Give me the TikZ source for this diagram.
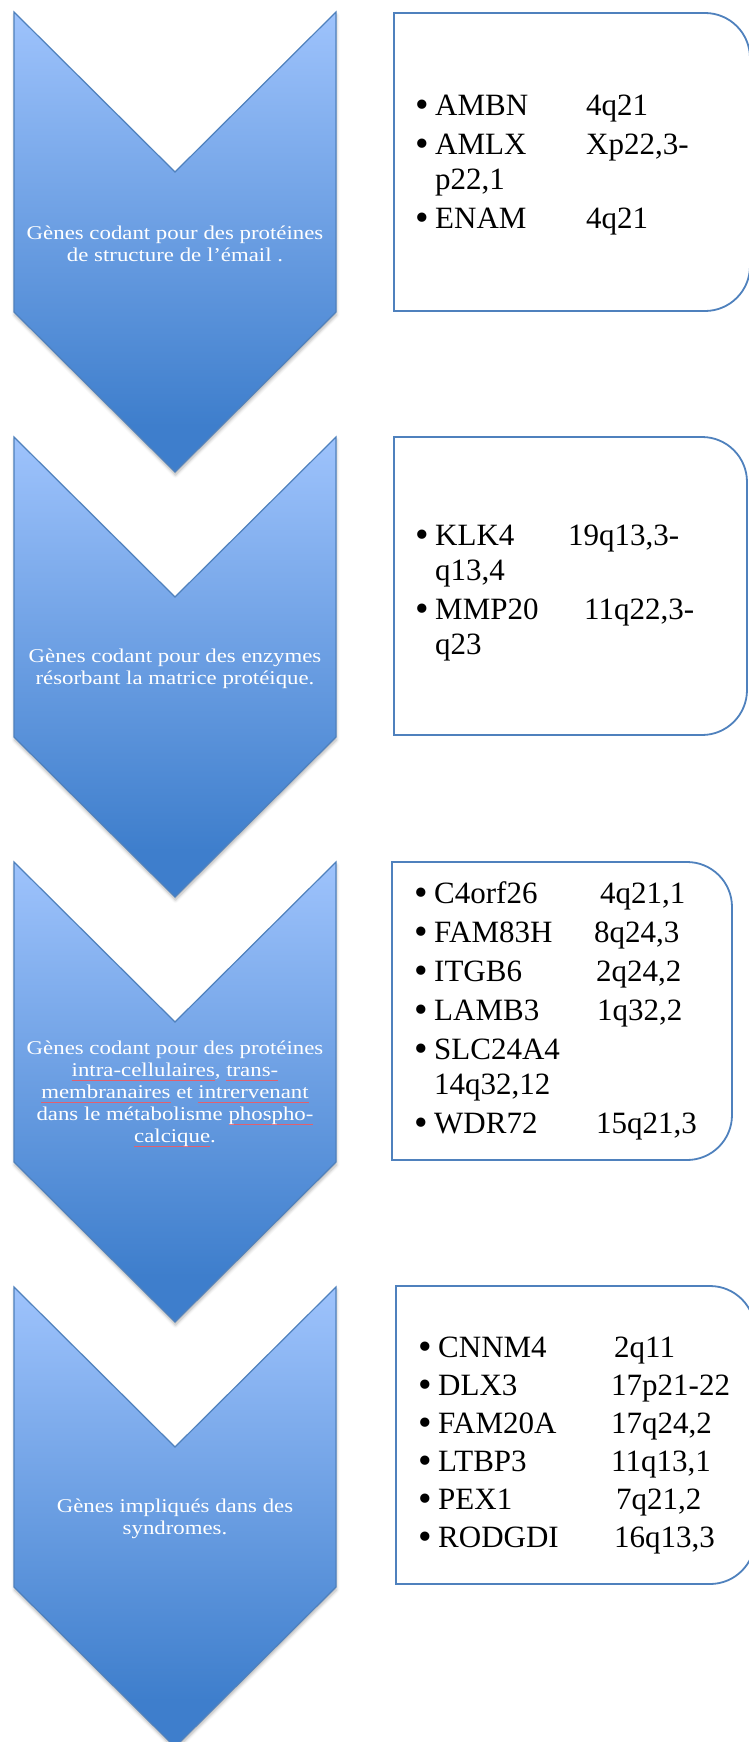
\documentclass[tikz,border=0pt]{standalone}
\usepackage{fontspec}
\setmainfont{Liberation Serif}
\newfontfamily\chevfont[FakeStretch=1.17]{Liberation Serif}
\usetikzlibrary{shadows.blur}

\definecolor{chevtop}{RGB}{158,195,252}
\definecolor{chevbot}{RGB}{62,126,204}
\definecolor{chevline}{RGB}{79,129,189}
\definecolor{boxline}{RGB}{79,129,189}
\definecolor{spellred}{RGB}{226,96,110}

% light at the top, dark towards the tip
\pgfdeclareverticalshading{chevshade}{100bp}{color(0bp)=(chevbot); color(25bp)=(chevbot);
  color(30bp)=(chevbot); color(75bp)=(chevtop); color(100bp)=(chevtop)}

% bullet, gene name, locus at a given offset
\newcommand\bul{\makebox[20pt][l]{\raisebox{-2pt}{\scalebox{1.25}{\textbullet}}}}
\newcommand\gene[3]{\bul\makebox[#2pt][l]{#1}#3}
\newcommand\wrapline[1]{\hspace*{20pt}#1}
\newcommand\spellmark[1]{\setbox0\hbox{#1}\rlap{\color{spellred}\rule[-3.5pt]{\wd0}{0.5pt}}\box0\relax}

\tikzset{
  chevron/.style={shading=chevshade, draw=chevline, line width=1.2pt,
    blur shadow={shadow xshift=0.5pt, shadow yshift=-3pt, shadow blur radius=3pt, shadow opacity=30}},
  chevtext/.style={text=white, font=\chevfont\fontsize{19.5}{22}\selectfont, align=center, inner sep=0pt},
  genebox/.style={draw=boxline, line width=1.8pt},
  genetext/.style={font=\fontsize{31}{35}\selectfont, align=left, inner sep=0pt, anchor=west},
}

\begin{document}
\begin{tikzpicture}[x=1pt,y=-1pt]
  \useasboundingbox (0,0) rectangle (749,1742);

  % chevrons
  \foreach \t in {12,437,862,1287}
    \draw[chevron] (14,\t) -- (175,\t+160) -- (336,\t) -- (336,\t+300)
      -- (175,\t+460) -- (14,\t+300) -- cycle;

  \node[chevtext] (c1) at (175,244) {Gènes codant pour des protéines\\de structure de l’émail .};
  \node[chevtext] (c2) at (175,669) {Gènes codant pour des enzymes\\résorbant la matrice protéique.};
  \node[chevtext] (c3) at (175,1094) {Gènes codant pour des protéines\\
    \spellmark{intra-cellulaires}, \spellmark{trans-}\\
    \spellmark{membranaires} et \spellmark{intrervenant}\\
    dans le métabolisme \spellmark{phospho-}\\
    \spellmark{calcique}.};
  \node[chevtext] (c4) at (175,1519) {Gènes impliqués dans des\\syndromes.};

  % gene lists
  \draw[genebox] (394,13) [rounded corners=45pt] -- (750,13) -- (750,311)
    [sharp corners] -- (394,311) -- cycle;
  \node[genetext] (g1) at (415,165) {\gene{AMBN}{151}{4q21}\\[4pt]
    \gene{AMLX}{151}{Xp22,3-}\\
    \wrapline{p22,1}\\[4pt]
    \gene{ENAM}{151}{4q21}};

  \draw[genebox] (394,437) [rounded corners=45pt] -- (747,437) -- (747,735)
    [sharp corners] -- (394,735) -- cycle;
  \node[genetext] (g2) at (415,593) {\gene{KLK4}{133}{19q13,3-}\\
    \wrapline{q13,4}\\[4pt]
    \gene{MMP20}{149}{11q22,3-}\\
    \wrapline{q23}};

  \draw[genebox] (392,862) [rounded corners=45pt] -- (732,862) -- (732,1160)
    [sharp corners] -- (392,1160) -- cycle;
  \node[genetext] (g3) at (414,1011) {\gene{C4orf26}{166}{4q21,1}\\[4pt]
    \gene{FAM83H}{160}{8q24,3}\\[4pt]
    \gene{ITGB6}{162}{2q24,2}\\[4pt]
    \gene{LAMB3}{163}{1q32,2}\\[4pt]
    \bul SLC24A4\\
    \wrapline{14q32,12}\\[4pt]
    \gene{WDR72}{162}{15q21,3}};

  \draw[genebox] (396,1286) [rounded corners=45pt] -- (755,1286) -- (755,1584)
    [sharp corners] -- (396,1584) -- cycle;
  \node[genetext] (g4) at (418,1446) {\gene{CNNM4}{176}{2q11}\\[3pt]
    \gene{DLX3}{173}{17p21-22}\\[3pt]
    \gene{FAM20A}{173}{17q24,2}\\[3pt]
    \gene{LTBP3}{173}{11q13,1}\\[3pt]
    \gene{PEX1}{178}{7q21,2}\\[3pt]
    \gene{RODGDI}{176}{16q13,3}};
\end{tikzpicture}
\end{document}
